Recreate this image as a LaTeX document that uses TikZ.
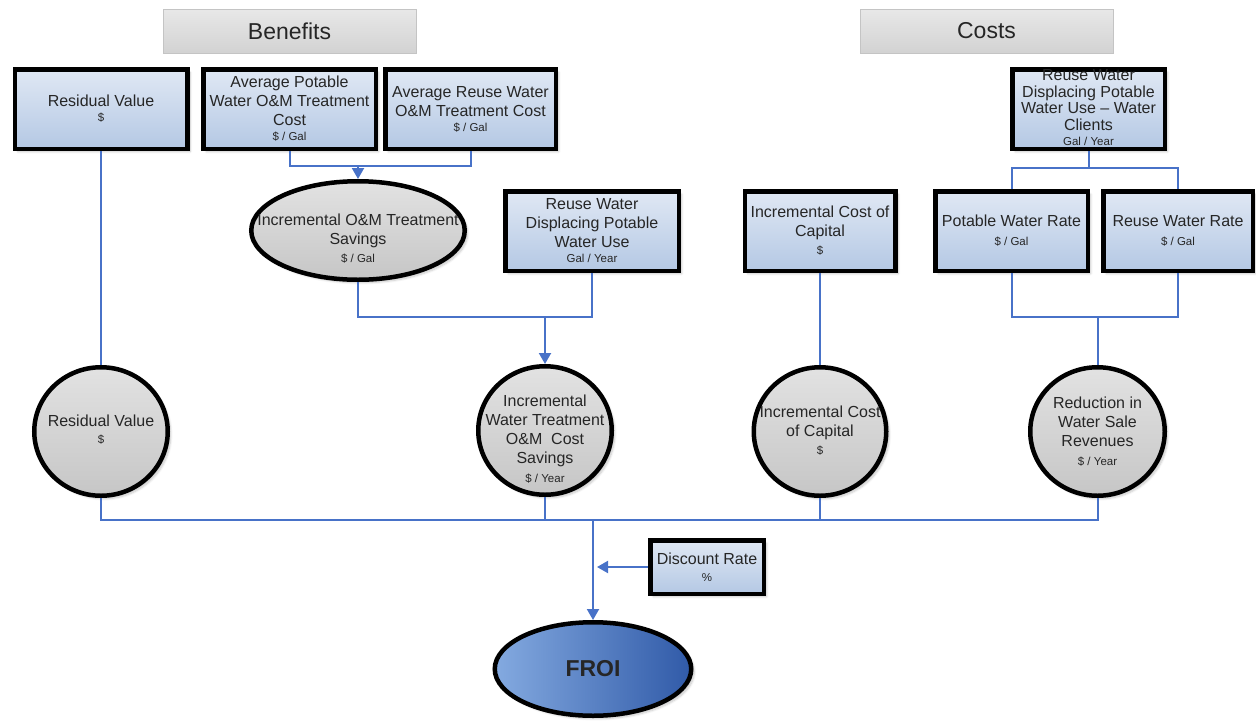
\documentclass[tikz,border=0pt]{standalone}
\usepackage{fontspec}
\setmainfont{Liberation Sans}
\usetikzlibrary{arrows.meta,shapes.geometric,shadows.blur}

\definecolor{linkblue}{RGB}{72,114,200}
\definecolor{boxtop}{RGB}{224,232,244}
\definecolor{boxbot}{RGB}{180,200,228}
\definecolor{calctop}{RGB}{226,226,226}
\definecolor{calcbot}{RGB}{198,198,198}
\definecolor{froilight}{RGB}{132,170,224}
\definecolor{froidark}{RGB}{48,90,168}
\definecolor{hdrtop}{RGB}{232,232,232}
\definecolor{hdrbot}{RGB}{210,210,210}
\definecolor{hdrline}{RGB}{196,196,196}
\definecolor{ink}{RGB}{38,38,38}

\newcommand{\unitfont}{\fontsize{11.5}{14}\selectfont}

\tikzset{
  header/.style={draw=hdrline, line width=1pt, top color=hdrtop, bottom color=hdrbot,
    minimum width=253pt, minimum height=44pt, inner sep=0pt, text=ink,
    font=\fontsize{23}{26}\selectfont},
  softshadow/.style={blur shadow={shadow xshift=3pt, shadow yshift=-3pt,
    shadow opacity=22, shadow blur steps=6}},
  varbox/.style={draw=black, line width=4.5pt, top color=boxtop, bottom color=boxbot,
    minimum height=79.5pt, inner sep=0pt, align=center, text=ink,
    font=\fontsize{16}{19}\selectfont, softshadow},
  calcnode/.style={ellipse, draw=black, line width=4.5pt, top color=calctop,
    bottom color=calcbot, inner sep=0pt, softshadow},
  shapetext/.style={align=center, inner sep=0pt, text=ink,
    font=\fontsize{16}{19}\selectfont},
  result/.style={ellipse, draw=black, line width=4.5pt, left color=froilight,
    right color=froidark, inner sep=0pt, text=black!85,
    font=\bfseries\fontsize{23}{26}\selectfont, softshadow},
  conn/.style={draw=linkblue, line width=2pt},
  arr/.style={conn, -{Triangle[length=11pt,width=12pt]}},
}

\begin{document}
\begin{tikzpicture}[x=1pt,y=-1pt]
\useasboundingbox (0,0) rectangle (1256,721);

% section headings
\node[header] (benefits) at (289.5,31) {Benefits};
\node[header] (costs) at (986.5,31) {Costs};

% input variables
\node[varbox, minimum width=172.5pt] (resbox) at (101,109)
  {Residual Value\\[-4pt]{\unitfont \$}};
\node[varbox, minimum width=172.5pt] (potbox) at (289.5,109)
  {Average Potable\\Water O\&M Treatment\\Cost\\[-4pt]{\unitfont \$ / Gal}};
\node[varbox, minimum width=170.5pt] (reubox) at (470.5,109)
  {Average Reuse Water\\O\&M Treatment Cost\\[-4pt]{\unitfont \$ / Gal}};
\node[varbox, minimum width=173.5pt] (dispbox) at (592,231)
  {Reuse Water\\Displacing Potable\\Water Use\\[-4pt]{\unitfont Gal / Year}};
\node[varbox, minimum width=150.5pt] (capbox) at (820,231)
  {Incremental Cost of\\Capital\\[-1pt]{\unitfont \$}};
\node[varbox, minimum width=152.5pt] (clientbox) at (1088.5,109) {};
\node[shapetext, font=\fontsize{16}{16.8}\selectfont] (clientbox-text) at (1088.5,107.5)
  {Reuse Water\\Displacing Potable\\Water Use – Water\\Clients\\[-2pt]{\unitfont Gal / Year}};
\node[varbox, minimum width=152.5pt] (pwrbox) at (1011.5,231)
  {Potable Water Rate\\{\unitfont \$ / Gal}};
\node[varbox, minimum width=149.5pt] (rwrbox) at (1178,231)
  {Reuse Water Rate\\{\unitfont \$ / Gal}};
\node[varbox, minimum width=113.5pt, minimum height=53.5pt] (discbox) at (707,567)
  {Discount Rate\\[-2pt]{\unitfont \%}};

% calculated quantities
\node[calcnode, minimum width=213.5pt, minimum height=98.5pt] (omell) at (358,230.5) {};
\node[shapetext] (omell-text) at (358,239)
  {Incremental O\&M Treatment\\Savings\\[-1pt]{\unitfont \$ / Gal}};

\node[calcnode, minimum width=133.5pt, minimum height=128.5pt] (rescirc) at (101,431.5) {};
\node[shapetext] (rescirc-text) at (101,430)
  {Residual Value\\[-2pt]{\unitfont \$}};

\node[calcnode, minimum width=133.5pt, minimum height=128.5pt] (wtcirc) at (545,430.5) {};
\node[shapetext] (wtcirc-text) at (545,439)
  {Incremental\\Water Treatment\\O\&M~~Cost\\Savings\\{\unitfont \$ / Year}};

\node[calcnode, minimum width=132.5pt, minimum height=128.5pt] (capcirc) at (820,431.5) {};
\node[shapetext] (capcirc-text) at (820,431)
  {Incremental Cost\\of Capital\\[-1pt]{\unitfont \$}};

\node[calcnode, minimum width=134.5pt, minimum height=128.5pt] (redcirc) at (1097.5,431.5) {};
\node[shapetext] (redcirc-text) at (1097.5,431.5)
  {Reduction in\\Water Sale\\Revenues\\{\unitfont \$ / Year}};

% result
\node[result, minimum width=196.5pt, minimum height=93.5pt] (froi) at (593,669) {FROI};

% connectors: treatment savings
\coordinate (ombus) at (358,166);
\draw[conn] (potbox.south) -- (potbox.south |- ombus) -- (reubox.south |- ombus) -- (reubox.south);
\draw[arr] (ombus) -- (omell.north);

\coordinate (wtbus) at (545,317);
\draw[conn] (omell.south) -- (omell.south |- wtbus) -- (dispbox.south |- wtbus) -- (dispbox.south);
\draw[arr] (wtbus) -- (wtcirc.north);

\draw[conn] (resbox.south) -- (rescirc.north);
\draw[conn] (capbox.south) -- (capcirc.north);

% connectors: water sale revenues
\coordinate (ratebus) at (1088.5,168);
\draw[conn] (clientbox.south) -- (ratebus);
\draw[conn] (pwrbox.north) |- (ratebus) -| (rwrbox.north);
\coordinate (revbus) at (1097.5,317);
\draw[conn] (pwrbox.south) |- (revbus) -| (rwrbox.south);
\draw[conn] (revbus) -- (redcirc.north);

% connectors: into FROI
\coordinate (froibus) at (593,520);
\draw[conn] (rescirc.south) |- (froibus) -- (froibus -| redcirc.south) -- (redcirc.south);
\draw[conn] (wtcirc.south) -- (wtcirc.south |- froibus);
\draw[conn] (capcirc.south) -- (capcirc.south |- froibus);
\draw[arr] (froibus) -- (froi.north);
\draw[arr, shorten >=4pt] (discbox.west) -- (discbox.west -| froibus);
\end{tikzpicture}
\end{document}
